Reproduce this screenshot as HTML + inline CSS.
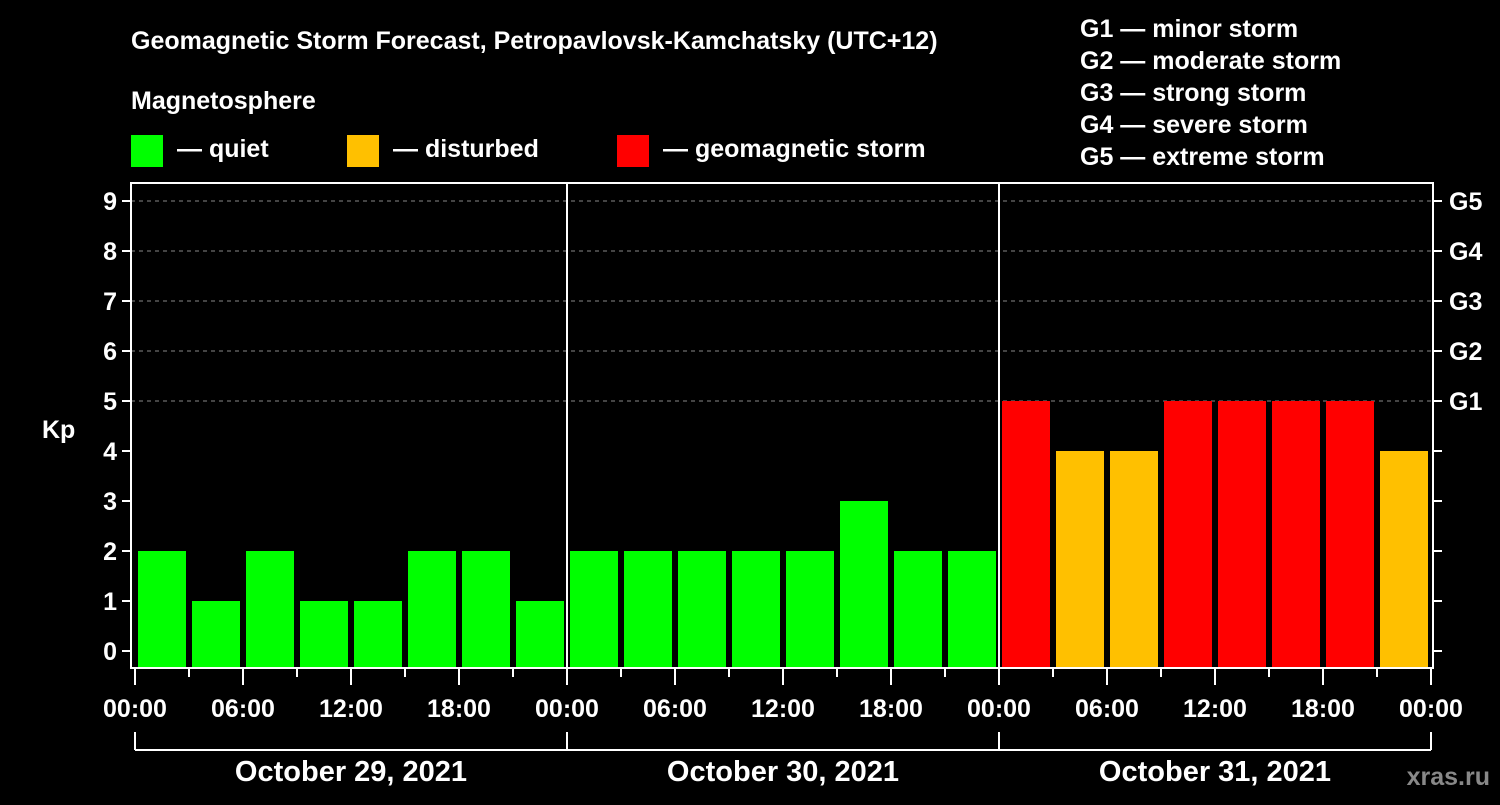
<!DOCTYPE html>
<html><head><meta charset="utf-8"><style>
body{margin:0;background:#000;width:1500px;height:800px;overflow:hidden;font-family:"Liberation Sans",Arial,sans-serif}
svg text{font-family:"Liberation Sans",Arial,sans-serif;font-weight:bold;fill:#fff}
</style></head><body>
<svg id="c" width="1500" height="800" xmlns="http://www.w3.org/2000/svg">
<text x="131" y="49" font-size="25">Geomagnetic Storm Forecast, Petropavlovsk-Kamchatsky (UTC+12)</text>
<text x="131" y="109" font-size="25">Magnetosphere</text>
<g><rect x="131" y="135" width="32" height="32" fill="#00ff00"/><text x="177" y="157" font-size="25">— quiet</text></g>
<g><rect x="347" y="135" width="32" height="32" fill="#ffc000"/><text x="393" y="157" font-size="25">— disturbed</text></g>
<g><rect x="617" y="135" width="32" height="32" fill="#ff0000"/><text x="663" y="157" font-size="25">— geomagnetic storm</text></g>
<g font-size="25">
<text x="1080" y="37">G1 — minor storm</text>
<text x="1080" y="69">G2 — moderate storm</text>
<text x="1080" y="101">G3 — strong storm</text>
<text x="1080" y="133">G4 — severe storm</text>
<text x="1080" y="165">G5 — extreme storm</text>
</g>
<text x="42" y="438" font-size="25">Kp</text>
<text x="1490" y="785" font-size="25" fill="#888" style="fill:#888" text-anchor="end">xras.ru</text>
<g id="grid"></g><g id="bars"></g><g id="axes"></g>
</svg>
<script>
const dates=["October 29, 2021","October 30, 2021","October 31, 2021"];
const kpValues=[2,1,2,1,1,2,2,1, 2,2,2,2,2,3,2,2, 5,4,4,5,5,5,5,4];
const yTicks=[0,1,2,3,4,5,6,7,8,9];
const gLabels=["G1","G2","G3","G4","G5"];
const timeLabels=["00:00","06:00","12:00","18:00"];
const NS="http://www.w3.org/2000/svg";
const L=131,R=1433,T=183,B=668,X0=135,DAY=432;
const y=v=>651-v*50;
const x=h=>X0+h*DAY/24;
function mk(p,tag,a){const e=document.createElementNS(NS,tag);for(const k in a)e.setAttribute(k,a[k]);p.appendChild(e);return e;}
const grid=document.getElementById('grid'),bars=document.getElementById('bars'),axes=document.getElementById('axes');
yTicks.forEach(v=>{if(v>=5){const l=mk(grid,'line',{x1:L,x2:R,y1:y(v),y2:y(v),stroke:'#888','stroke-dasharray':'4,4','stroke-width':1});

}
const t=mk(axes,'line',{x1:L-9,x2:L,y1:y(v),y2:y(v),stroke:'#fff','stroke-width':2});


const t2=mk(axes,'line',{x1:R,x2:R+9,y1:y(v),y2:y(v),stroke:'#fff','stroke-width':2});


const tx=mk(axes,'text',{x:L-14,y:y(v)+9,'font-size':25,'text-anchor':'end'});tx.textContent=v;

});
gLabels.forEach((g,i)=>{const tx=mk(axes,'text',{x:1449,y:y(5+i)+9,'font-size':25});tx.textContent=g;

});
kpValues.forEach((v,i)=>{const c=v>=5?'#ff0000':v>=4?'#ffc000':'#00ff00';
const r=mk(bars,'rect',{x:x(i*3)+3,y:y(v),width:48,height:B-y(v),fill:c});

});
const fr=mk(axes,'rect',{x:L,y:T,width:R-L,height:B-T,fill:'none',stroke:'#fff','stroke-width':2});


for(let d=1;d<dates.length;d++){const l=mk(axes,'line',{x1:x(d*24),x2:x(d*24),y1:T,y2:B,stroke:'#fff','stroke-width':2});

}
for(let h=0;h<=dates.length*24;h+=3){const major=h%6===0;
const l=mk(axes,'line',{x1:x(h),x2:x(h),y1:B,y2:B+(major?17:9),stroke:'#fff','stroke-width':2});


if(major){const tx=mk(axes,'text',{x:x(h),y:717,'font-size':25,'text-anchor':'middle'});tx.textContent=timeLabels[(h/6)%4];

}}
mk(axes,'line',{x1:x(0),x2:x(dates.length*24),y1:750,y2:750,stroke:'#fff','stroke-width':2});
dates.forEach((d,i)=>{const l=mk(axes,'line',{x1:x(i*24),x2:x(i*24),y1:732,y2:750,stroke:'#fff','stroke-width':2});


const tx=mk(axes,'text',{x:x(i*24+12),y:781,'font-size':29,'text-anchor':'middle'});tx.textContent=d;

});
const l=mk(axes,'line',{x1:x(72),x2:x(72),y1:732,y2:750,stroke:'#fff','stroke-width':2});


</script>
</body></html>
